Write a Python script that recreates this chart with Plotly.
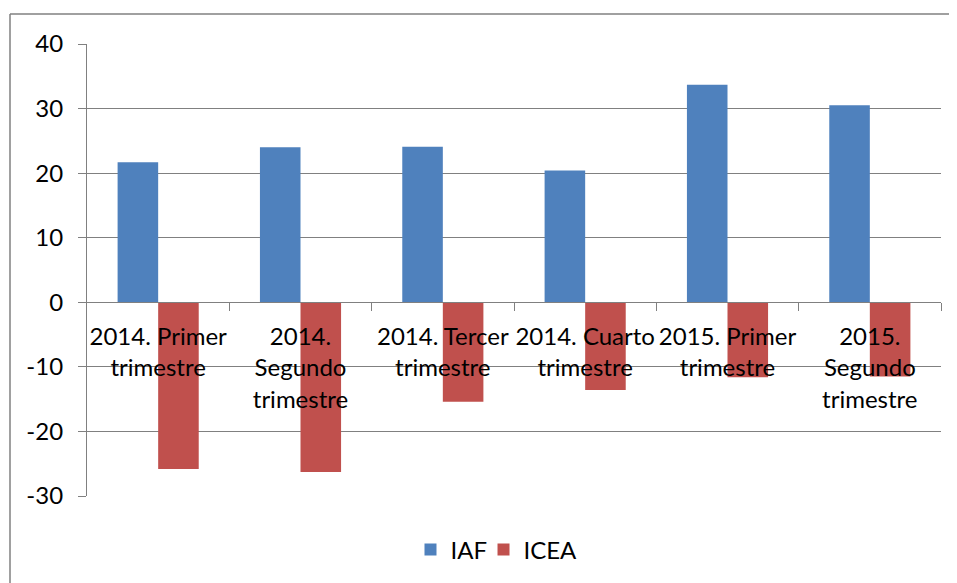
import plotly.graph_objects as go

categories = [
    "2014. Primer<br>trimestre",
    "2014.<br>Segundo<br>trimestre",
    "2014. Tercer<br>trimestre",
    "2014. Cuarto<br>trimestre",
    "2015. Primer<br>trimestre",
    "2015.<br>Segundo<br>trimestre",
]
iaf = [21.7, 24.0, 24.1, 20.4, 33.7, 30.5]
icea = [-25.8, -26.3, -15.4, -13.6, -11.6, -11.5]
y_ticks = [-30, -20, -10, 0, 10, 20, 30, 40]
y_tick_text = ["-30", "-20", "-10", "0", "10", "20", "30", "40"]

GRID = "#808080"
FONT = "Lato, 'Open Sans', sans-serif"

x_idx = list(range(len(categories)))

fig = go.Figure()
fig.add_trace(go.Bar(name="IAF", x=x_idx, y=iaf, marker_color="#4F81BD", marker_line_width=0, legend="legend"))
fig.add_trace(go.Bar(name="ICEA", x=x_idx, y=icea, marker_color="#C0504D", marker_line_width=0, legend="legend2"))

legend_style = {
    "orientation": "h",
    "xanchor": "left",
    "y": -0.119,
    "yanchor": "middle",
    "font": {"size": 24},
    "bgcolor": "rgba(0,0,0,0)",
}

# the page body adds an 8px offset, margins are shifted to compensate
fig.update_layout(
    width=957,
    height=583,
    margin={"l": 79, "r": 24, "t": 36, "b": 95, "autoexpand": False},
    paper_bgcolor="white",
    plot_bgcolor="white",
    barmode="group",
    bargap=0.43,
    bargroupgap=0,
    font={"family": FONT, "size": 24, "color": "black"},
    showlegend=True,
    legend={**legend_style, "x": 0.3788},
    legend2={**legend_style, "x": 0.4643},
)

fig.update_yaxes(
    range=[-30, 40],
    tickmode="array",
    tickvals=y_ticks,
    ticktext=y_tick_text,
    automargin=False,
    showgrid=True,
    gridcolor=GRID,
    gridwidth=1.2,
    zeroline=False,
    showline=True,
    linecolor=GRID,
    linewidth=1.2,
    ticks="outside",
    ticklen=8,
    tickcolor=GRID,
    ticklabelstandoff=10,
    tickfont={"size": 24},
)

# category axis sits on the zero line, labels hang just below it
fig.update_xaxes(
    range=[-0.5, 5.5],
    anchor="free",
    position=3 / 7,
    automargin=False,
    showgrid=False,
    zeroline=False,
    showline=True,
    linecolor=GRID,
    linewidth=1.2,
    tickmode="array",
    tickvals=x_idx,
    ticktext=categories,
    ticks="",
    tickfont={"size": 24},
    ticklabelstandoff=13,
    minor={
        "tickmode": "array",
        "tickvals": [i + 0.5 for i in x_idx],
        "ticks": "outside",
        "ticklen": 8,
        "tickcolor": GRID,
    },
)

# chart area border: only its top and left edges are inside the picture
border_left = (2 - 79) / 854
border_top = (488 - 6) / 452
fig.add_shape(type="line", xref="paper", yref="paper", x0=border_left, x1=1.2, y0=border_top, y1=border_top,
              line={"color": GRID, "width": 1.5}, layer="below")
fig.add_shape(type="line", xref="paper", yref="paper", x0=border_left, x1=border_left, y0=-0.4, y1=border_top,
              line={"color": GRID, "width": 1.5}, layer="below")

fig.write_html("out.html")
